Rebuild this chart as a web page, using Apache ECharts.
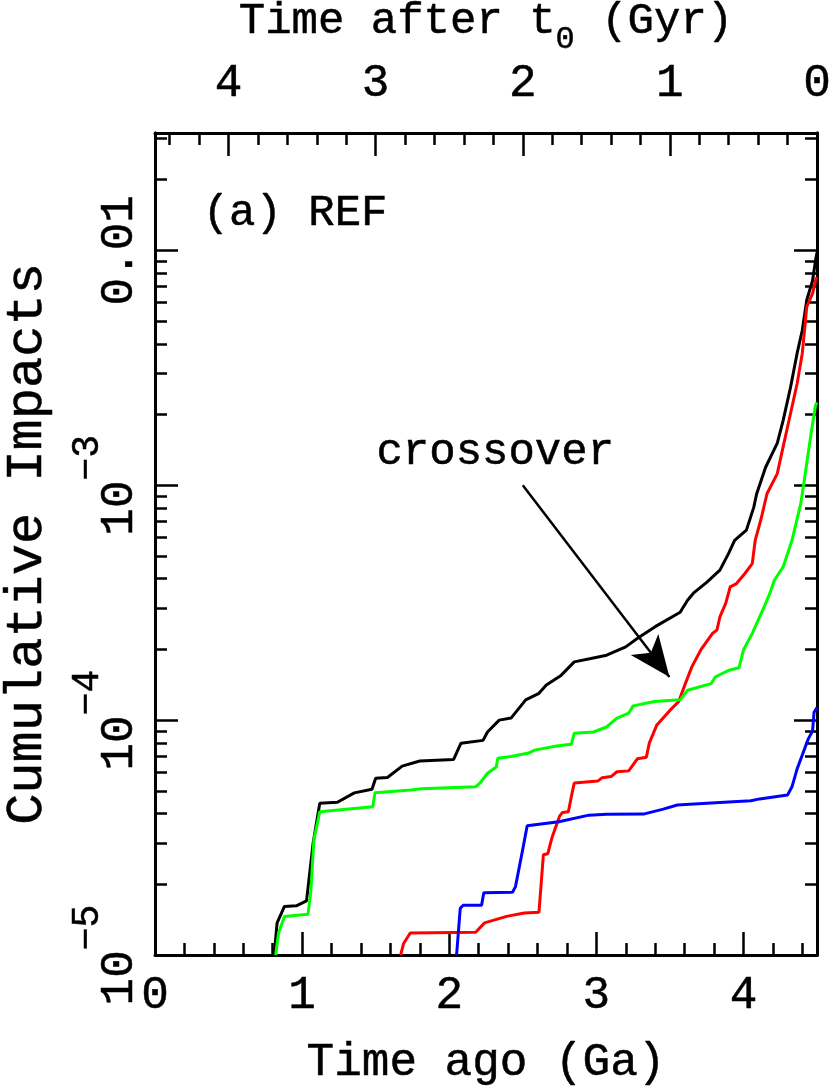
<!DOCTYPE html>
<html>
<head>
<meta charset="utf-8">
<script src="https://cdn.jsdelivr.net/npm/echarts@6/dist/echarts.min.js"></script>
<style>html,body{margin:0;padding:0;background:#fff}#c{width:830px;height:1090px}</style>
</head>
<body>
<div id="c"></div>
<script>
// ---- data: [time ago (Ga), cumulative impacts] ----
const blackData = [[0.81,1.0e-5],[0.83,1.37e-5],[0.88,1.61e-5],[0.96,1.62e-5],[1.03,1.70e-5],[1.075,3.0e-5],[1.12,4.43e-5],[1.24,4.47e-5],[1.355,4.9e-5],[1.475,5.08e-5],[1.50,5.66e-5],[1.58,5.7e-5],[1.68,6.37e-5],[1.80,6.7e-5],[2.03,6.8e-5],[2.08,7.98e-5],[2.23,8.2e-5],[2.26,8.9e-5],[2.34,1.0e-4],[2.42,1.02e-4],[2.52,1.22e-4],[2.61,1.30e-4],[2.66,1.41e-4],[2.76,1.55e-4],[2.85,1.77e-4],[2.98,1.84e-4],[3.07,1.89e-4],[3.20,2.05e-4],[3.28,2.23e-4],[3.40,2.5e-4],[3.57,2.88e-4],[3.62,3.24e-4],[3.66,3.47e-4],[3.75,3.86e-4],[3.84,4.35e-4],[3.90,5.14e-4],[3.94,5.83e-4],[4.02,6.44e-4],[4.07,8.05e-4],[4.09,9.2e-4],[4.15,1.19e-3],[4.23,1.51e-3],[4.27,1.89e-3],[4.32,2.61e-3],[4.365,3.65e-3],[4.40,4.57e-3],[4.43,6.13e-3],[4.47,7.44e-3],[4.49,9.06e-3],[4.5,9.8e-3]];
const redData = [[1.67,1.0e-5],[1.69,1.12e-5],[1.735,1.24e-5],[2.18,1.25e-5],[2.24,1.37e-5],[2.39,1.46e-5],[2.51,1.51e-5],[2.61,1.52e-5],[2.64,2.67e-5],[2.67,2.7e-5],[2.70,3.18e-5],[2.75,3.9e-5],[2.77,4.04e-5],[2.81,4.07e-5],[2.835,4.89e-5],[2.85,5.4e-5],[3.01,5.5e-5],[3.04,5.69e-5],[3.10,5.75e-5],[3.14,6.03e-5],[3.22,6.08e-5],[3.28,6.85e-5],[3.34,6.95e-5],[3.36,7.98e-5],[3.41,9.5e-5],[3.50,1.10e-4],[3.56,1.2e-4],[3.605,1.43e-4],[3.615,1.45e-4],[3.65,1.69e-4],[3.71,1.99e-4],[3.79,2.34e-4],[3.82,2.42e-4],[3.84,2.75e-4],[3.88,3.15e-4],[3.91,3.69e-4],[3.95,3.8e-4],[4.01,4.21e-4],[4.06,4.64e-4],[4.08,5.83e-4],[4.12,7.2e-4],[4.16,9.2e-4],[4.23,1.12e-3],[4.27,1.46e-3],[4.32,2.02e-3],[4.365,2.71e-3],[4.40,3.65e-3],[4.42,4.89e-3],[4.43,5.74e-3],[4.47,6.56e-3],[4.49,7.45e-3],[4.5,7.7e-3]];
const greenData = [[0.82,1.0e-5],[0.84,1.24e-5],[0.88,1.46e-5],[1.04,1.49e-5],[1.06,1.89e-5],[1.08,3.09e-5],[1.12,4.07e-5],[1.48,4.28e-5],[1.495,4.91e-5],[1.74,5.04e-5],[1.81,5.1e-5],[2.18,5.2e-5],[2.21,5.4e-5],[2.26,5.94e-5],[2.32,6.32e-5],[2.33,6.88e-5],[2.42,7.0e-5],[2.54,7.24e-5],[2.58,7.45e-5],[2.73,7.76e-5],[2.83,7.9e-5],[2.85,8.8e-5],[2.98,8.9e-5],[3.07,9.35e-5],[3.14,1.02e-4],[3.22,1.07e-4],[3.25,1.15e-4],[3.395,1.20e-4],[3.57,1.22e-4],[3.62,1.34e-4],[3.78,1.43e-4],[3.81,1.53e-4],[3.90,1.63e-4],[3.97,1.67e-4],[4.00,1.99e-4],[4.06,2.34e-4],[4.14,3.03e-4],[4.18,3.47e-4],[4.21,3.94e-4],[4.27,4.49e-4],[4.33,5.83e-4],[4.39,8.37e-4],[4.42,1.12e-3],[4.46,1.66e-3],[4.49,2.19e-3],[4.5,2.25e-3]];
const blueData = [[2.05,1.0e-5],[2.075,1.58e-5],[2.095,1.63e-5],[2.22,1.63e-5],[2.235,1.84e-5],[2.43,1.85e-5],[2.45,1.95e-5],[2.495,2.72e-5],[2.53,3.55e-5],[2.745,3.69e-5],[2.95,3.94e-5],[3.07,3.97e-5],[3.32,3.98e-5],[3.455,4.18e-5],[3.55,4.35e-5],[3.81,4.45e-5],[4.05,4.54e-5],[4.11,4.62e-5],[4.30,4.8e-5],[4.33,5.2e-5],[4.365,6.2e-5],[4.40,7.1e-5],[4.44,8.3e-5],[4.47,9.0e-5],[4.48,1.08e-4],[4.5,1.13e-4]];

// ---- axes / tick labels ----
const xRange = [0, 4.5];
const yRange = [1e-5, 0.0316];
const xMajorStep = 1;
const xMinorSplit = 5;
const yDecades = [-5, -4, -3, -2];
const yMinorFactors = [2, 3, 4, 5, 6, 7, 8, 9];

// ---- annotations ----
const panelLabel = {text: '(a) REF', at: [0.952, 0.0144]};
const crossLabel = {text: 'crossover', at: [2.313, 1.38e-3]};
const arrowFrom = [2.5, 1.0e-3];
const arrowTo = [3.497, 1.525e-4];

const FONT = '"Liberation Mono", "DejaVu Sans Mono", monospace';
const TXT = {color: '#000', fontFamily: FONT, textBorderColor: '#000', textBorderWidth: 0.5};
const T = (size, extra) => Object.assign({}, TXT, {fontSize: size}, extra || {});
const lg = v => Math.log10(v);
const toLog = arr => arr.map(p => [p[0], lg(p[1])]);
const yMin = lg(yRange[0]), yMax = lg(yRange[1]);
const yMinor = [];
yDecades.forEach(n => yMinorFactors.forEach(k => { const v = n + lg(k); if (v <= yMax) yMinor.push(v); }));

const isInt = v => Math.abs(v - Math.round(v)) < 1e-9;
const AX = {color: '#000', width: 3};
const TK = {color: '#000', width: 2.5};

function yAxisDef(pos, major, labels) {
  return {
    type: 'value', position: pos, min: yMin, max: yMax, interval: 1,
    splitLine: {show: false},
    axisLine: {show: true, onZero: false, lineStyle: AX},
    axisTick: major ? {show: true, inside: true, length: 23, lineStyle: TK}
                    : {show: true, inside: true, length: 12, lineStyle: TK, customValues: yMinor},
    axisLabel: labels ? {
      show: true, rotate: 90, margin: 12,
      formatter: v => {
        if (!isInt(v)) return '';
        const n = Math.round(v);
        if (n === -2) return '{b|0.01}';
        return '{b|10}{s|\u2212' + (-n) + '}';
      },
      rich: {
        b: T(46, {verticalAlign: 'bottom'}),
        s: T(38, {verticalAlign: 'top', padding: [0, 0, 36, 0]})
      }
    } : {show: false},
    name: labels ? 'Cumulative Impacts' : '',
    nameLocation: 'middle', nameGap: 102,
    nameTextStyle: T(52)
  };
}

function xAxisDef(pos, inverse, name, nameGap, nameStyle) {
  return {
    type: 'value', position: pos, inverse: inverse, min: xRange[0], max: xRange[1], interval: xMajorStep,
    splitLine: {show: false},
    axisLine: {show: true, onZero: false, lineStyle: AX},
    axisTick: {show: true, inside: true, length: 23, lineStyle: TK},
    minorTick: {show: true, splitNumber: xMinorSplit, length: 12, lineStyle: TK},
    axisLabel: Object.assign(T(46), {
      show: true, margin: pos === 'bottom' ? 18 : 26,
      formatter: v => isInt(v) ? String(Math.round(v)) : ''
    }),
    name: name, nameLocation: 'middle', nameGap: nameGap,
    nameTextStyle: nameStyle
  };
}

const chart = echarts.init(document.getElementById('c'), null, {renderer: 'canvas'});
chart.setOption({
  animation: false,
  backgroundColor: '#fff',
  textStyle: {fontFamily: FONT},
  grid: {left: 155, right: 13, top: 133, bottom: 135, containLabel: false, outerBoundsMode: 'none'},
  xAxis: [
    xAxisDef('bottom', false, 'Time ago (Ga)', 85, T(46)),
    xAxisDef('top', true, '{n|Time after t}{sub|0}{n| (Gyr)}', 77, {
      rich: {
        n: T(44, {verticalAlign: 'top'}),
        sub: T(32, {verticalAlign: 'bottom', padding: [24, 0, 0, 0]})
      }
    })
  ],
  yAxis: [
    yAxisDef('left', true, true),
    yAxisDef('left', false, false),
    yAxisDef('right', true, false),
    yAxisDef('right', false, false)
  ],
  series: [
    {
      name: 'black', type: 'line', data: toLog(blackData), showSymbol: false, symbol: 'none',
      lineStyle: {color: '#000', width: 3}, itemStyle: {color: '#000'}, clip: true, z: 2,
      markLine: {
        silent: true, animation: false,
        symbol: ['none', 'arrow'], symbolSize: [26, 41],
        lineStyle: {color: '#000', width: 2.5, type: 'solid'},
        label: {show: false},
        data: [[{coord: [arrowFrom[0], lg(arrowFrom[1])]}, {coord: [arrowTo[0], lg(arrowTo[1])]}]]
      },
      markPoint: {
        silent: true, animation: false,
        symbol: 'circle', symbolSize: 1, itemStyle: {color: 'rgba(0,0,0,0)'},
        label: Object.assign(T(44), {show: true, position: 'inside', formatter: p => p.name}),
        data: [
          {name: panelLabel.text, coord: [panelLabel.at[0], lg(panelLabel.at[1])]},
          {name: crossLabel.text, coord: [crossLabel.at[0], lg(crossLabel.at[1])]}
        ]
      }
    },
    {name: 'red', type: 'line', data: toLog(redData), showSymbol: false, symbol: 'none',
     lineStyle: {color: '#ff0000', width: 3}, itemStyle: {color: '#ff0000'}, clip: true, z: 3},
    {name: 'green', type: 'line', data: toLog(greenData), showSymbol: false, symbol: 'none',
     lineStyle: {color: '#00ff00', width: 3}, itemStyle: {color: '#00ff00'}, clip: true, z: 4},
    {name: 'blue', type: 'line', data: toLog(blueData), showSymbol: false, symbol: 'none',
     lineStyle: {color: '#0000ff', width: 3}, itemStyle: {color: '#0000ff'}, clip: true, z: 5}
  ]
});
</script>
</body>
</html>
